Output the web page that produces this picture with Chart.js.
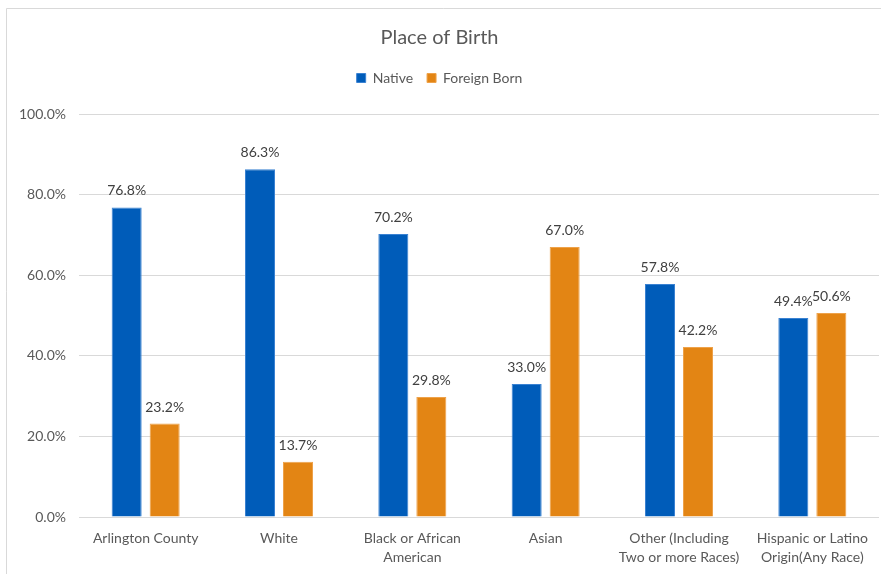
<!DOCTYPE html>
<html>
<head>
<meta charset="utf-8">
<script src="https://cdn.jsdelivr.net/npm/chart.js@4.4.1/dist/chart.umd.min.js"></script>
<style>
  body { margin: 0; background: #fff; }
  .wrap { position: relative; width: 881px; height: 574px; }
</style>
</head>
<body>
<div class="wrap"><canvas id="bar-chart"></canvas></div>
<script>
'use strict';

// categories (multi-line where the original wraps)
const places = [
  'Arlington County',
  'White',
  ['Black or African', 'American'],
  'Asian',
  ['Other (Including', 'Two or more Races)'],
  ['Hispanic or Latino', 'Origin(Any Race)']
];
const nativePct = [76.8, 86.3, 70.2, 33.0, 57.8, 49.4];
const foreignPct = [23.2, 13.7, 29.8, 67.0, 42.2, 50.6];
const yTicks = [0, 20, 40, 60, 80, 100];

const txtGray = '#595959';
const fontName = 'Lato, "Open Sans", sans-serif';

// frame lines on left and top, like the sheet's chart border
const framePlugin = {
  id: 'frame',
  beforeDraw(chart) {
    const c = chart.ctx;
    c.save();
    c.fillStyle = '#fff';
    c.fillRect(0, 0, chart.width, chart.height);
    c.strokeStyle = '#d9d9d9';
    c.lineWidth = 1;
    c.beginPath();
    c.moveTo(6.5, chart.height);
    c.lineTo(6.5, 8.5);
    c.lineTo(chart.width, 8.5);
    c.stroke();
    c.restore();
  }
};

// extra room under the legend
const legendGap = {
  id: 'legendGap',
  beforeInit(chart) {
    const origFit = chart.legend.fit;
    chart.legend.fit = function () {
      origFit.bind(chart.legend)();
      this.height += 19;
    };
  }
};

// value labels above each bar
const valueLabels = {
  id: 'valueLabels',
  afterDatasetsDraw(chart) {
    const c = chart.ctx;
    c.save();
    c.font = '14px ' + fontName;
    c.fillStyle = '#404040';
    c.textAlign = 'center';
    c.textBaseline = 'alphabetic';
    chart.data.datasets.forEach((ds, i) => {
      chart.getDatasetMeta(i).data.forEach((bar, j) => {
        c.fillText(ds.data[j].toFixed(1) + '%', bar.x, bar.y - 12);
      });
    });
    c.restore();
  }
};

const ctx = document.getElementById('bar-chart').getContext('2d');
const chart = new Chart(ctx, {
  type: 'bar',
  data: {
    labels: places,
    datasets: [
      {
        label: 'Native',
        data: nativePct,
        backgroundColor: '#005CB9',
        borderColor: '#3a82d2',
        borderWidth: 1,
        borderSkipped: 'bottom'
      },
      {
        label: 'Foreign Born',
        data: foreignPct,
        backgroundColor: '#E38514',
        borderColor: '#eea24a',
        borderWidth: 1,
        borderSkipped: 'bottom'
      }
    ]
  },
  options: {
    responsive: true,
    maintainAspectRatio: false,
    animation: false,
    datasets: {
      bar: { categoryPercentage: 0.57, barPercentage: 0.79 }
    },
    layout: { padding: { left: 0, right: 2, top: 0, bottom: 0 } },
    plugins: {
      title: {
        display: true,
        text: 'Place of Birth',
        color: txtGray,
        font: { family: fontName, size: 20, weight: 'normal' },
        padding: { top: 26, bottom: 7 }
      },
      legend: {
        display: true,
        labels: {
          color: txtGray,
          font: { family: fontName, size: 14 },
          boxWidth: 9,
          boxHeight: 9,
          padding: 14
        }
      },
      tooltip: { enabled: false }
    },
    scales: {
      x: {
        grid: { display: false },
        border: { display: false },
        ticks: {
          color: txtGray,
          font: { family: fontName, size: 14, lineHeight: 1.35 },
          maxRotation: 0,
          autoSkip: false,
          padding: 4
        },
        afterFit(scale) { scale.height = 57; }
      },
      y: {
        min: 0,
        max: 100,
        afterBuildTicks(scale) {
          scale.ticks = yTicks.map(v => ({ value: v }));
        },
        grid: { color: '#d9d9d9', drawTicks: false },
        border: { display: false },
        ticks: {
          color: txtGray,
          font: { family: fontName, size: 14 },
          padding: 13,
          callback: v => v.toFixed(1) + '%'
        },
        afterFit(scale) { scale.width = 79; }
      }
    }
  },
  plugins: [framePlugin, legendGap, valueLabels]
});
</script>
</body>
</html>
